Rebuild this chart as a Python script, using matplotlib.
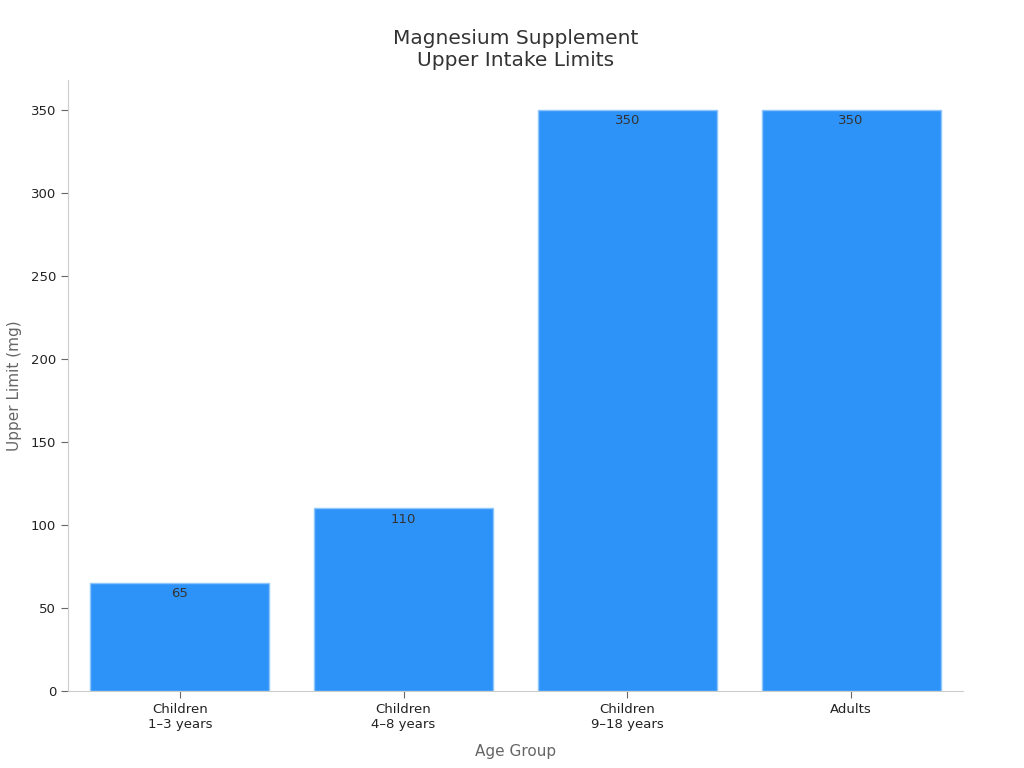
import matplotlib.pyplot as plt

# Data
groups = ["Children\n1–3 years", "Children\n4–8 years", "Children\n9–18 years", "Adults"]
upper_limits = [65, 110, 350, 350]

fig = plt.figure(figsize=(10.24, 7.68), dpi=100)
ax = fig.add_axes([0.0664, 0.100, 0.874, 0.796])

bars = ax.bar(range(len(groups)), upper_limits, width=0.8,
              color="#2E93F8", edgecolor="#8EC5FB", linewidth=1)

# Value labels just inside the top of each bar
for bar, val in zip(bars, upper_limits):
    ax.text(bar.get_x() + bar.get_width() / 2, val - 2.5, str(val),
            ha="center", va="top", fontsize=9.5, color="#333333")

ax.set_xlim(-0.5, 3.5)
ax.set_ylim(0, 368)
ax.set_xticks(range(len(groups)))
ax.set_xticklabels(groups, fontsize=9.5, color="#222222")
ax.set_yticks(range(0, 351, 50))
ax.tick_params(axis="y", labelsize=9.5, colors="#222222")
ax.tick_params(axis="both", color="#666666", length=5)

for side in ["top", "right"]:
    ax.spines[side].set_visible(False)
for side in ["left", "bottom"]:
    ax.spines[side].set_color("#cccccc")

ax.set_xlabel("Age Group", fontsize=11, color="#666666", labelpad=9)
ax.set_ylabel("Upper Limit (mg)", fontsize=11, color="#666666", labelpad=6)
ax.set_title("Magnesium Supplement\nUpper Intake Limits", fontsize=14.5, color="#333333", pad=10)

plt.savefig("out.png", dpi=100)
